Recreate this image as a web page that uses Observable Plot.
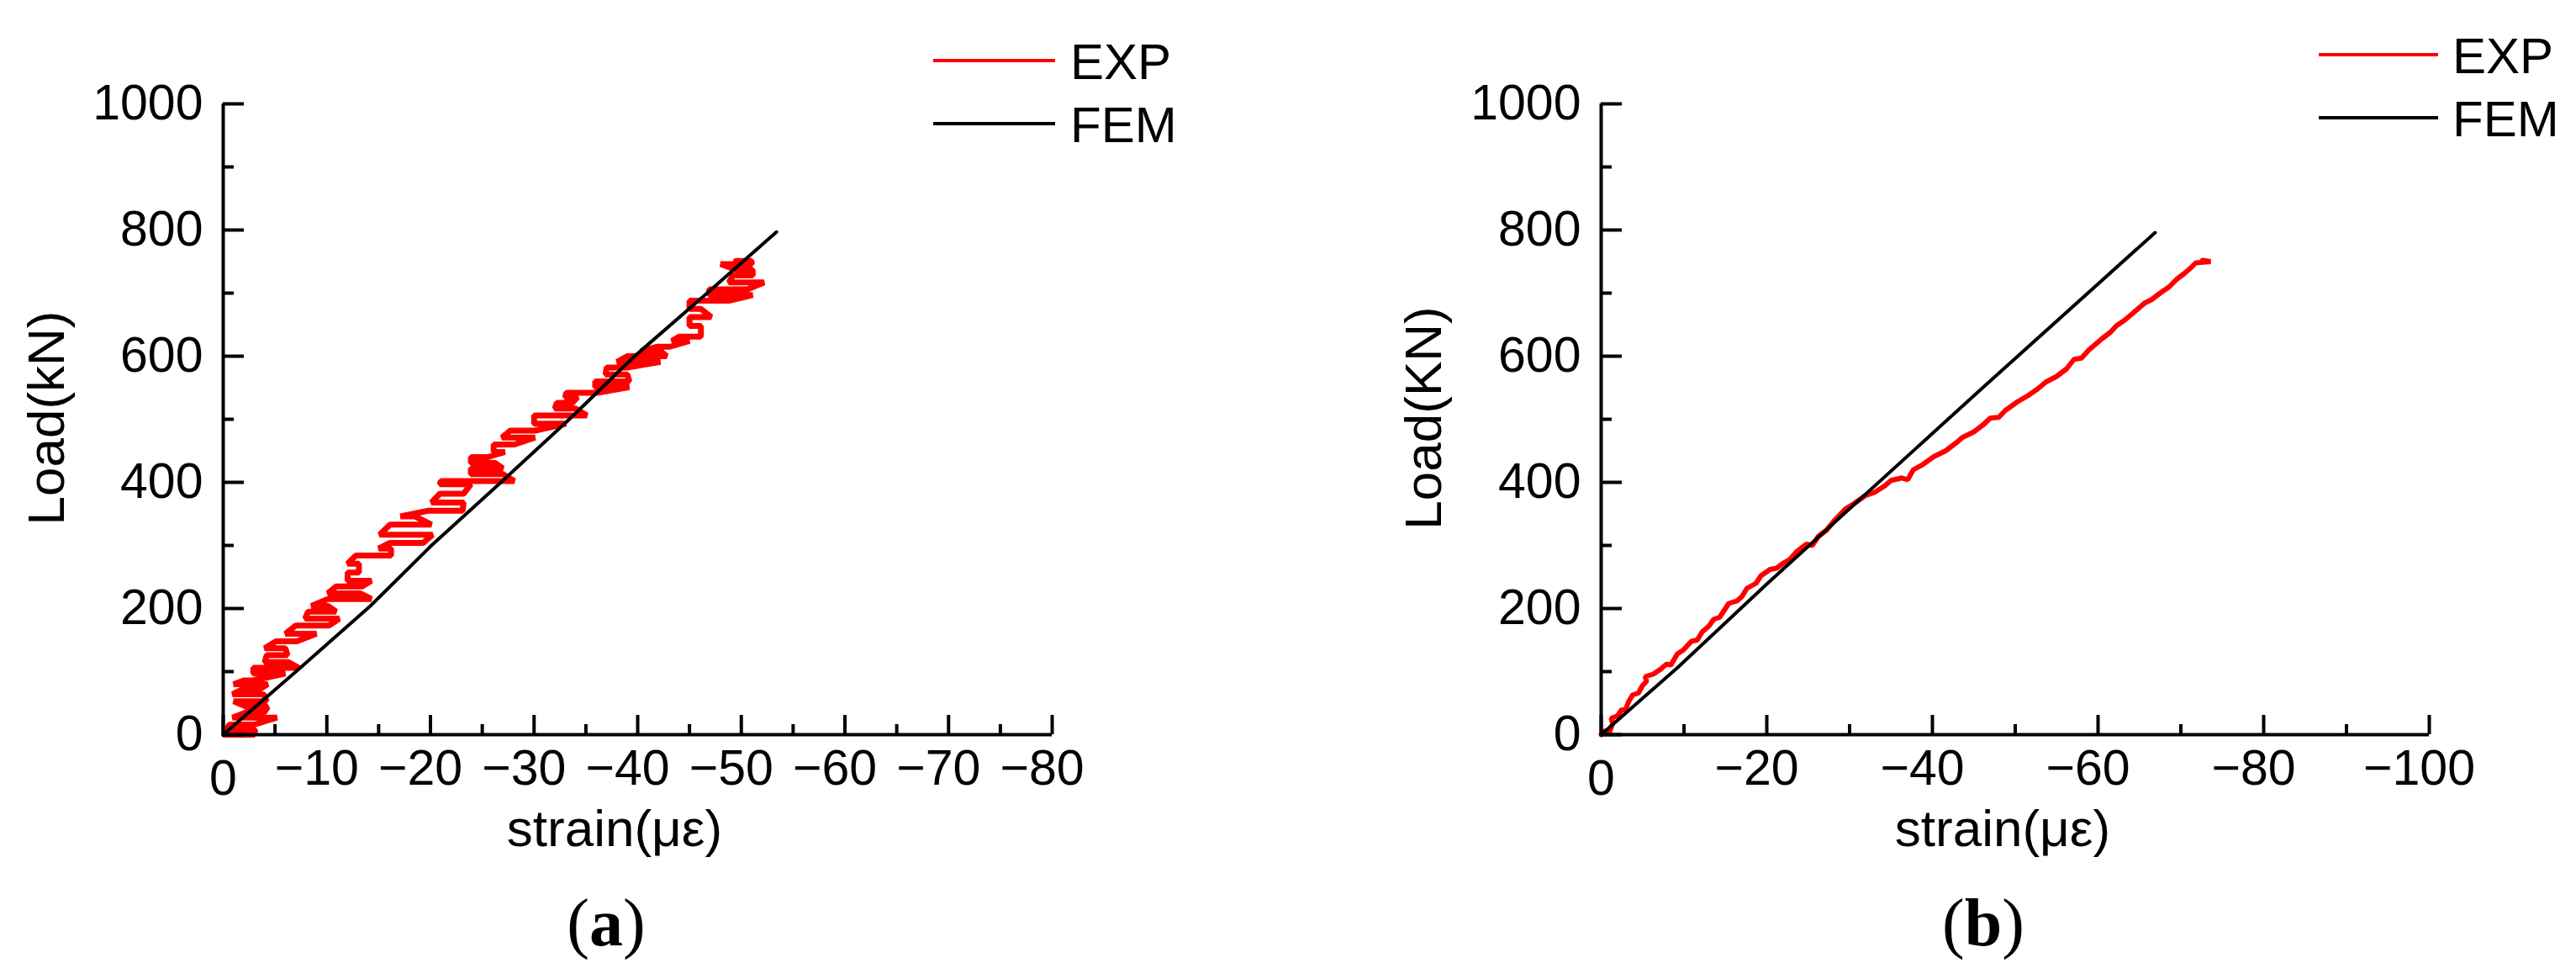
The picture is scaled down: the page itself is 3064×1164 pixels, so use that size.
<!DOCTYPE html>
<html><head><meta charset="utf-8">
<script src="https://cdn.jsdelivr.net/npm/d3@7"></script>
<script src="https://cdn.jsdelivr.net/npm/@observablehq/plot@0.6"></script>
<style>
html,body{margin:0;padding:0;background:#fff;}
#fig{position:relative;width:3064px;height:1164px;overflow:hidden;background:#fff;}
#fig > svg{position:absolute;top:0;}
</style></head><body><div id="fig"></div>
<script>
// ---------- tick values ----------
const yMajor = [0, 200, 400, 600, 800, 1000];
const yMinor = [100, 300, 500, 700, 900];
const xMajorA = [0, -10, -20, -30, -40, -50, -60, -70, -80];
const xMinorA = [-5, -15, -25, -35, -45, -55, -65, -75];
const xMajorB = [0, -20, -40, -60, -80, -100];
const xMinorB = [-10, -30, -50, -70, -90];

// ---------- panel (a) EXP: load levels with strain range at each level ----------
const expA_load = [0, 8, 16, 27, 36, 44, 53, 64, 73, 80, 86, 97, 106, 115, 126, 137, 148, 160, 173, 184, 195, 204, 215, 224, 235, 244, 257, 271, 284, 295, 304, 317, 333, 346, 355, 368, 382, 397, 402, 413, 422, 431, 440, 448, 460, 471, 482, 493, 506, 517, 526, 535, 542, 551, 560, 571, 582, 591, 600, 608, 615, 624, 631, 648, 662, 675, 688, 697, 706, 717, 728, 737, 746, 751];
const expA_lo = [-0.1, -0.3, -0.6, -0.9, -2.3, -2.3, -1.0, -0.9, -2.0, -1.0, -2.0, -2.9, -2.9, -4.0, -4.2, -4.0, -5.1, -6.0, -7.0, -7.9, -8.2, -8.5, -10.1, -10.1, -10.9, -12.0, -12.0, -12.0, -12.8, -15.0, -16.1, -15.1, -16.1, -17.1, -19.8, -20.1, -20.9, -20.9, -21.0, -23.9, -23.9, -23.9, -23.9, -26.1, -26.1, -26.9, -27.7, -30.0, -30.0, -32.0, -32.2, -33.0, -33.1, -35.9, -35.9, -36.9, -37.0, -38.0, -39.0, -40.3, -41.9, -43.3, -44.0, -45.0, -45.0, -45.0, -45.0, -46.9, -46.9, -48.8, -49.2, -49.5, -48.0, -49.5];
const expA_hi = [-3.0, -3.1, -3.0, -5.2, -4.0, -4.3, -4.2, -3.9, -3.6, -4.3, -2.9, -6.0, -7.3, -6.3, -6.2, -6.0, -7.1, -9.0, -10.2, -11.2, -10.9, -10.1, -14.3, -13.2, -13.4, -14.3, -13.1, -13.1, -16.2, -16.2, -19.3, -20.2, -20.1, -18.5, -23.1, -23.2, -23.2, -23.9, -28.1, -27.0, -27.0, -26.2, -25.5, -27.2, -28.1, -30.1, -30.1, -33.1, -35.1, -34.0, -33.7, -34.2, -36.1, -39.2, -39.2, -39.0, -39.0, -42.2, -42.8, -42.2, -43.1, -45.0, -46.1, -46.1, -47.1, -46.1, -48.8, -51.1, -50.6, -52.2, -51.1, -51.1, -51.0, -51.0];

// ---------- panel (a) FEM ----------
const femA_strain = [0, -7.3, -14.2, -20.1, -26.8, -33.4, -39.7, -46.7, -53.4];
const femA_load = [0, 104, 204, 300, 400, 500, 600, 700, 797];

// ---------- panel (b) EXP ----------
const expB_strain = [0, -0.4, -1.0, -1.4, -1.2, -2.0, -2.5, -2.9, -3.3, -3.8, -4.5, -5.0, -5.5, -5.3, -6.3, -7.2, -7.9, -8.4, -9.2, -9.9, -10.9, -11.6, -12.2, -13.0, -13.6, -14.3, -15.0, -15.4, -16.4, -17.0, -17.6, -18.7, -19.3, -20.4, -21.2, -22.0, -22.8, -23.6, -24.8, -25.5, -26.2, -27.2, -28.2, -29.5, -30.5, -31.9, -33.0, -34.3, -35.0, -36.3, -37.0, -37.7, -38.8, -40.2, -41.6, -43.0, -43.6, -45.0, -46.2, -47.0, -48.0, -48.8, -50.3, -51.6, -52.7, -53.7, -55.0, -56.2, -57.1, -58.0, -58.9, -60.5, -61.5, -62.2, -63.2, -64.2, -65.6, -66.5, -67.5, -68.6, -69.5, -70.4, -71.2, -71.8, -73.6, -72.6];
const expB_load = [0, 6, 4, 18, 26, 30, 40, 38, 52, 63, 66, 78, 85, 92, 96, 104, 112, 110, 128, 134, 148, 150, 163, 172, 183, 186, 200, 208, 212, 219, 232, 240, 252, 262, 264, 272, 278, 290, 302, 300, 314, 324, 340, 358, 366, 379, 384, 395, 403, 407, 404, 420, 428, 441, 450, 464, 471, 480, 492, 502, 503, 514, 528, 538, 548, 559, 568, 580, 595, 597, 610, 628, 638, 648, 657, 668, 684, 690, 700, 710, 722, 731, 740, 748, 750, 752];

// ---------- panel (b) FEM ----------
const femB_strain = [0, -9.2, -20.1, -45.9, -66.9];
const femB_load = [0, 106, 240, 548, 796];

// ---------- build tables ----------
const expA = expA_load.flatMap((y, i) => i % 2 === 0
  ? [{x: expA_lo[i], y}, {x: expA_hi[i], y}]
  : [{x: expA_hi[i], y}, {x: expA_lo[i], y}]);
const femA = femA_strain.map((x, i) => ({x, y: femA_load[i]}));
const expB = expB_strain.map((x, i) => ({x, y: expB_load[i]}));
const femB = femB_strain.map((x, i) => ({x, y: femB_load[i]}));

const fmt = d => d < 0 ? "\u2212" + (-d) : String(d);

function panel({exp, fem, xDomain, xMajor, xMinor, marginLeft, marginRight, expWidth}) {
  const nonZeroX = xMajor.filter(d => d !== 0);
  return Plot.plot({
    width: 1532, height: 1000,
    marginLeft, marginRight, marginTop: 123, marginBottom: 127,
    x: {domain: xDomain, label: null},
    y: {domain: [0, 1000], label: null},
    style: {fontFamily: "'Liberation Sans', Arial, sans-serif", fontSize: "59px", color: "#000", background: "transparent", overflow: "visible"},
    marks: [
      Plot.line(exp, {x: "x", y: "y", stroke: "#ff0000", strokeWidth: expWidth, strokeLinejoin: "miter"}),
      Plot.line(fem, {x: "x", y: "y", stroke: "#000", strokeWidth: 4}),
      Plot.axisX(xMajor, {tickSize: -23, strokeWidth: 4, tickFormat: () => "", label: null}),
      Plot.axisX(xMinor, {tickSize: -12, strokeWidth: 4, tickFormat: () => "", label: null}),
      Plot.axisX(nonZeroX, {tickSize: 0, tickPadding: 18, dx: -12, tickFormat: fmt, label: null}),
      Plot.axisX([0], {tickSize: 0, tickPadding: 30, tickFormat: fmt, label: null}),
      Plot.axisY(yMajor, {tickSize: -25, strokeWidth: 4, tickFormat: () => "", label: null}),
      Plot.axisY(yMinor, {tickSize: -13, strokeWidth: 4, tickFormat: () => "", label: null}),
      Plot.axisY(yMajor, {tickSize: 0, tickPadding: 24, tickFormat: fmt, label: null}),
      Plot.ruleX([0], {strokeWidth: 4}),
      Plot.ruleY([0], {strokeWidth: 4})
    ]
  });
}

const fig = document.getElementById("fig");
const pa = panel({exp: expA, fem: femA, xDomain: [0, -80], xMajor: xMajorA, xMinor: xMinorA, marginLeft: 265, marginRight: 281, expWidth: 7});
pa.style.left = "0px";
fig.appendChild(pa);
const pb = panel({exp: expB, fem: femB, xDomain: [0, -100], xMajor: xMajorB, xMinor: xMinorB, marginLeft: 372, marginRight: 175, expWidth: 6});
pb.style.left = "1532px";
fig.appendChild(pb);

// ---------- annotation overlay: legends, axis titles, captions ----------
const legendLabels = ["EXP", "FEM"];
const legendColors = ["#ff0000", "#000000"];
const ov = d3.create("svg").attr("width", 3064).attr("height", 1164)
  .style("left", "0px").style("top", "0px")
  .attr("font-family", "'Liberation Sans', Arial, sans-serif");

[{x0: 1110, x1: 1255, tx: 1273, ys: [72, 147]}, {x0: 2758, x1: 2900, tx: 2917, ys: [65, 140]}].forEach(L => {
  legendLabels.forEach((lab, i) => {
    ov.append("line").attr("x1", L.x0).attr("x2", L.x1).attr("y1", L.ys[i]).attr("y2", L.ys[i])
      .attr("stroke", legendColors[i]).attr("stroke-width", 4);
    ov.append("text").attr("x", L.tx).attr("y", L.ys[i] + 21.5).attr("font-size", 60).text(lab);
  });
});

[{cx: 731, lx: 76, load: "Load(kN)", cap: "a", capx: 721}, {cx: 2382, lx: 1714, load: "Load(KN)", cap: "b", capx: 2359}].forEach(P => {
  ov.append("text").attr("x", P.cx).attr("y", 1006).attr("font-size", 62).attr("text-anchor", "middle").text("strain(με)");
  ov.append("text").attr("transform", `translate(${P.lx},497) rotate(-90)`).attr("font-size", 62).attr("text-anchor", "middle").text(P.load);
  const t = ov.append("text").attr("x", P.capx).attr("y", 1124).attr("font-size", 80).attr("text-anchor", "middle")
    .attr("font-family", "'Liberation Serif', 'Times New Roman', serif");
  t.append("tspan").text("(");
  t.append("tspan").attr("font-weight", "bold").text(P.cap);
  t.append("tspan").text(")");
});
fig.appendChild(ov.node());
</script>
</body></html>
